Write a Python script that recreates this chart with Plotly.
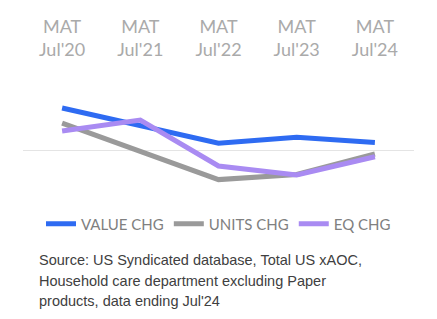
import plotly.graph_objects as go

categories = ["MAT<br>Jul'20", "MAT<br>Jul'21", "MAT<br>Jul'22", "MAT<br>Jul'23", "MAT<br>Jul'24"]
value_chg = [10.5, 6.0, 1.7, 3.2, 1.9]
units_chg = [6.7, -0.2, -7.4, -6.1, -1.0]
eq_chg = [4.75, 7.5, -4.0, -6.25, -1.7]

source_lines = ["Source: US Syndicated database, Total US xAOC,",
                "Household care department excluding Paper",
                "products, data ending Jul'24"]

fig = go.Figure()
fig.add_trace(go.Scatter(x=categories, y=value_chg, mode="lines", name="VALUE CHG",
                         line=dict(color="#2E6BF2", width=5)))
fig.add_trace(go.Scatter(x=categories, y=units_chg, mode="lines", name="UNITS CHG",
                         line=dict(color="#9A9A9A", width=5)))
fig.add_trace(go.Scatter(x=categories, y=eq_chg, mode="lines", name="EQ CHG",
                         line=dict(color="#A98BF2", width=5)))

plot_bottom = 200.0
plot_h = 130.0
line_centers = [260, 281, 301]
annotations = []
for txt, py in zip(source_lines, line_centers):
    annotations.append(dict(text=txt, xref="paper", yref="paper",
                            x=(37 - 23) / 391.0, y=(plot_bottom - py) / plot_h,
                            xanchor="left", yanchor="middle", align="left", showarrow=False,
                            font=dict(family="Liberation Sans, Arial, sans-serif", size=14.5,
                                      color="#404040")))

fig.update_layout(
    width=437, height=319,
    margin=dict(l=23, r=23, t=70, b=119),
    paper_bgcolor="white", plot_bgcolor="white",
    showlegend=True,
    legend=dict(orientation="h", x=0.5, xanchor="center", y=-0.057, yanchor="top",
                font=dict(family="Lato, sans-serif", size=15, color="#808080"),
                itemwidth=30, tracegroupgap=0),
    xaxis=dict(side="top", type="category", range=[-0.5, 4.5], showgrid=False,
               showline=False, ticks="", zeroline=False, ticklabelstandoff=9,
               tickfont=dict(family="Lato, sans-serif", size=18, color="#AAAAAA")),
    yaxis=dict(range=[-12.5, 20], showgrid=False, showticklabels=False, ticks="",
               zeroline=True, zerolinecolor="#E4E4E4", zerolinewidth=1, showline=False),
    annotations=annotations,
)

fig.write_html("out.html")
